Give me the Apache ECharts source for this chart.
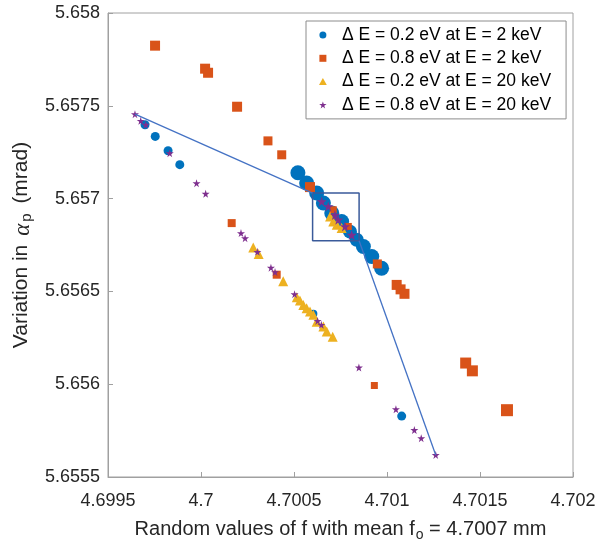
<!DOCTYPE html>
<html><head><meta charset="utf-8">
<script src="https://cdn.jsdelivr.net/npm/echarts@6/dist/echarts.min.js"></script>
<style>html,body{margin:0;padding:0;background:#fff}#c{width:596px;height:542px}</style>
</head><body><div id="c"></div>
<script>
const xTickLabels = ['4.6995','4.7','4.7005','4.701','4.7015','4.702'];
const yTickLabels = ['5.6555','5.656','5.6565','5.657','5.6575','5.658'];
const seriesNames = ['\u0394 E = 0.2 eV at E = 2 keV','\u0394 E = 0.8 eV at E = 2 keV','\u0394 E = 0.2 eV at E = 20 keV','\u0394 E = 0.8 eV at E = 20 keV'];

const blueX = [4.699699,4.699754,4.699823,4.699886,4.700521,4.700568,4.700622,4.700658,4.700703,4.700756,4.700801,4.700837,4.700873,4.700918,4.700971,4.700604,4.701079];
const blueY = [5.657398,5.657335,5.657258,5.657183,5.657139,5.657084,5.657030,5.656976,5.656922,5.656877,5.656822,5.656778,5.656742,5.656688,5.656625,5.656379,5.655828];

const orangeX = [4.699753,4.700022,4.700038,4.700194,4.700360,4.700434,4.700586,4.700711,4.700792,4.700948,4.701052,4.701073,4.701094,4.700165,4.700407,4.700932,4.701423,4.701459,4.701645];
const orangeY = [5.657824,5.657700,5.657678,5.657495,5.657311,5.657236,5.657062,5.656940,5.656850,5.656648,5.656535,5.656511,5.656487,5.656868,5.656590,5.655993,5.656114,5.656072,5.655860];

const yellowX = [4.700281,4.700310,4.700442,4.700515,4.700532,4.700550,4.700568,4.700586,4.700604,4.700622,4.700658,4.700676,4.700708,4.700694,4.700711,4.700730,4.700756];
const yellowY = [5.656737,5.656702,5.656555,5.656469,5.656451,5.656427,5.656409,5.656392,5.656374,5.656337,5.656311,5.656284,5.656256,5.656903,5.656877,5.656859,5.656841];

const purpleX = [4.699645,4.699676,4.699703,4.699832,4.699976,4.700025,4.700215,4.700237,4.700303,4.700376,4.700398,4.700503,4.700627,4.700647,4.700849,4.701048,4.701147,4.701184,4.701262,4.700649,4.700684,4.700720,4.700738,4.700774,4.700810];
const purpleY = [5.657455,5.657419,5.657398,5.657245,5.657083,5.657026,5.656814,5.656787,5.656713,5.656628,5.656604,5.656485,5.656341,5.656320,5.656090,5.655865,5.655753,5.655709,5.655619,5.656985,5.656958,5.656912,5.656886,5.656850,5.656804];

// zoom-box annotation (data coordinates)
const zoomBoxX = [4.7006, 4.70085];
const zoomBoxY = [5.656773, 5.65703];
const connectorStart = [4.699645, 5.657455];
const connectorEnd = [4.701262, 5.655619];

// marker sizes (style)
const blueSizes = [9,9,9,9,15,15,15,15,15,15,14,14,15,15,15,8,9];
const orangeSizes = [10,10,10,10,9,9,10,7,7,9,10,10,10,8,8,7,11,11,12];
const yellowSizes = yellowX.map(() => 10);
const purpleSizes = purpleX.map((_, i) => i >= 19 ? 10 : 8);

const FONT = "'Liberation Sans', Arial, sans-serif";
const STAR = 'path://M50,0 L61,35 L98,35 L68,57 L79,91 L50,70 L21,91 L32,57 L2,35 L39,35 Z';
const SQUARE = 'path://M0,0 H10 V10 H0 Z';
const TRI = 'path://M5,0 L10,9 L0,9 Z';
const zip = (a, b) => a.map((v, i) => [v, b[i]]);

const chart = echarts.init(document.getElementById('c'), null, {renderer: 'canvas'});
const xMin = 4.6995, xMax = 4.702, yMin = 5.6555, yMax = 5.658, step = 0.0005;

function scatter(name, xs, ys, sizes, symbol, color, z) {
  return {
    type: 'scatter', name: name, data: zip(xs, ys), symbol: symbol,
    symbolSize: (v, p) => sizes[p.dataIndex],
    itemStyle: {color: color, opacity: 1}, z: z, silent: true
  };
}
const lineStyleBlue = {color: '#4472C4', width: 1.3};

chart.setOption({
  animation: false,
  backgroundColor: '#fff',
  grid: {left: 108, right: 23, top: 13, bottom: 65, show: true, borderColor: '#a0a0a0', borderWidth: 1,
         containLabel: false, outerBoundsMode: 'none'},
  xAxis: {
    type: 'value', min: xMin, max: xMax, interval: step,
    axisLine: {show: true, lineStyle: {color: '#a0a0a0'}},
    axisTick: {show: true, inside: true, length: 5, lineStyle: {color: '#a0a0a0'}},
    splitLine: {show: false},
    axisLabel: {color: '#262626', fontSize: 18, fontFamily: FONT, margin: 15,
      formatter: v => xTickLabels[Math.round((v - xMin) / step)]},
    name: '{t|Random values of f with mean f}{s|o}{t| = 4.7007 mm}',
    nameLocation: 'middle', nameGap: 38,
    nameTextStyle: {
      rich: {
        t: {fontSize: 20, fontFamily: FONT, color: '#262626', lineHeight: 22, verticalAlign: 'top'},
        s: {fontSize: 14, fontFamily: FONT, color: '#262626', lineHeight: 15, padding: [13, 0, 0, 1], verticalAlign: 'bottom'}
      }
    }
  },
  yAxis: {
    type: 'value', min: yMin, max: yMax, interval: step,
    axisLine: {show: true, lineStyle: {color: '#a0a0a0'}},
    axisTick: {show: true, inside: true, length: 5, lineStyle: {color: '#a0a0a0'}},
    splitLine: {show: false},
    axisLabel: {color: '#262626', fontSize: 18, fontFamily: FONT, margin: 8,
      formatter: v => yTickLabels[Math.round((v - yMin) / step)]},
    name: '{t|Variation in }{g|\u03b1}{s|p}{t| (mrad)}',
    nameLocation: 'middle', nameGap: 67,
    nameTextStyle: {
      rich: {
        t: {fontSize: 21, fontFamily: FONT, color: '#262626', lineHeight: 23, verticalAlign: 'top'},
        g: {fontSize: 23, fontFamily: "'Liberation Serif', serif", fontStyle: 'italic', color: '#262626', lineHeight: 23, verticalAlign: 'top', padding: [0, 1, 0, 3]},
        s: {fontSize: 15, fontFamily: FONT, color: '#262626', lineHeight: 15, padding: [13, 4, 0, 1], verticalAlign: 'bottom'}
      }
    }
  },
  legend: {
    orient: 'vertical', left: 306, top: 21,
    data: [
      {name: seriesNames[0], icon: 'circle'},
      {name: seriesNames[1], icon: SQUARE},
      {name: seriesNames[2], icon: TRI},
      {name: seriesNames[3], icon: STAR}
    ],
    itemWidth: 24, itemHeight: 7, itemGap: 5.3,
    padding: [5, 15, 5, 13],
    symbolKeepAspect: true,
    borderColor: '#8c8c8c', borderWidth: 1, backgroundColor: '#fff',
    textStyle: {fontSize: 17.5, fontFamily: FONT, color: '#000', lineHeight: 17.5, padding: [0, 0, 0, 2]},
    selectedMode: false
  },
  series: [
    scatter(seriesNames[0], blueX, blueY, blueSizes, 'circle', '#0072BD', 2),
    scatter(seriesNames[1], orangeX, orangeY, orangeSizes, 'rect', '#D95319', 3),
    scatter(seriesNames[2], yellowX, yellowY, yellowSizes, 'triangle', '#EDB120', 4),
    scatter(seriesNames[3], purpleX, purpleY, purpleSizes, STAR, '#7E2F8E', 5),
    {type: 'line', silent: true, symbol: 'none', z: 6, lineStyle: {color: '#3A5A9A', width: 1.5},
     data: [[zoomBoxX[0], zoomBoxY[1]], [zoomBoxX[1], zoomBoxY[1]], [zoomBoxX[1], zoomBoxY[0]], [zoomBoxX[0], zoomBoxY[0]], [zoomBoxX[0], zoomBoxY[1]]]},
    {type: 'line', silent: true, symbol: 'none', z: 6, lineStyle: lineStyleBlue,
     data: [connectorStart, [zoomBoxX[0], zoomBoxY[1]]]},
    {type: 'line', silent: true, symbol: 'none', z: 6, lineStyle: lineStyleBlue,
     data: [[zoomBoxX[1], zoomBoxY[0]], connectorEnd]}
  ]
});
</script>
</body></html>
